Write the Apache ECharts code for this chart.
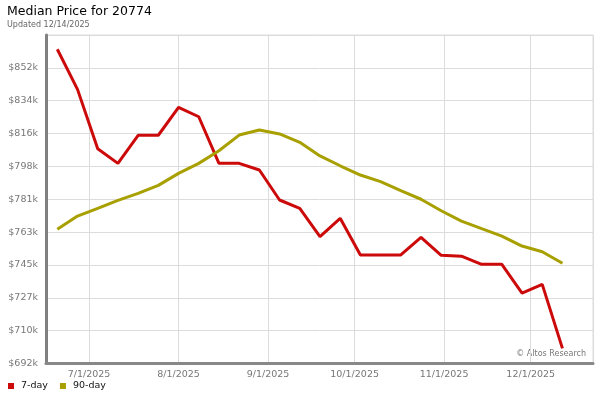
<!DOCTYPE html>
<html>
<head>
<meta charset="utf-8">
<script src="https://cdn.jsdelivr.net/npm/echarts@6/dist/echarts.min.js"></script>
<style>
html,body{margin:0;padding:0;background:#fff;}
#chart{width:600px;height:400px;}
</style>
</head>
<body>
<div id="chart"></div>
<script>
const dates = [
  '2025-06-20','2025-06-27','2025-07-04','2025-07-11','2025-07-18','2025-07-25',
  '2025-08-01','2025-08-08','2025-08-15','2025-08-22','2025-08-29','2025-09-05',
  '2025-09-12','2025-09-19','2025-09-26','2025-10-03','2025-10-10','2025-10-17',
  '2025-10-24','2025-10-31','2025-11-07','2025-11-14','2025-11-21','2025-11-28',
  '2025-12-05','2025-12-12'
];
const sevenDay = [
  862200, 840500, 808400, 800500, 815700, 815700, 830800, 825700, 800500, 800500,
  796900, 780700, 776200, 760900, 770800, 751000, 751000, 751000, 760500, 750800,
  750300, 745900, 745900, 730300, 735100, 700500
];
const ninetyDay = [
  764900, 772000, 776200, 780500, 784300, 788600, 795100, 800500, 807300, 815800,
  818500, 816400, 811900, 804500, 799200, 794200, 790600, 785700, 781100, 774900,
  769300, 765200, 761200, 755800, 752700, 746500
];
const yTickLabels = ['$692k','$710k','$727k','$745k','$763k','$781k','$798k','$816k','$834k','$852k'];
const yMin = 692300, yStep = 17760, yMax = 869900;

function toTs(s){ const p = s.split('-').map(Number); return new Date(p[0], p[1]-1, p[2]).getTime(); }
const xMin = new Date(2025, 5, 16, 2).getTime();
const xMax = new Date(2025, 11, 22, 14).getTime();

const chart = echarts.init(document.getElementById('chart'), null, {renderer:'canvas'});
const FONT = 'DejaVu Sans';
chart.setOption({
  animation: false,
  backgroundColor: '#fff',
  textStyle: {fontFamily: FONT},
  title: {
    text: 'Median Price for 20774',
    subtext: 'Updated 12/14/2025',
    left: 7, top: 5, padding: 0,
    itemGap: 3,
    textStyle: {fontFamily: FONT, fontSize: 12.5, fontWeight: 'normal', color: '#000'},
    subtextStyle: {fontFamily: FONT, fontSize: 8, color: '#666'}
  },
  legend: {
    left: 8, top: 381, padding: 0,
    icon: 'rect', itemWidth: 6, itemHeight: 6, itemGap: 12,
    textStyle: {fontFamily: FONT, fontSize: 9.5, color: '#111', padding: [0,0,0,2]},
    data: ['7-day','90-day']
  },
  grid: {left: 46, right: 7, top: 35, bottom: 36.5, show: true, borderColor: '#dcdcdc', borderWidth: 1},
  xAxis: {
    type: 'time', min: xMin, max: xMax,
    splitNumber: 6,
    minInterval: 28*86400000,
    axisLine: {show: true, lineStyle: {color: '#888', width: 3}},
    axisTick: {show: false},
    splitLine: {show: true, lineStyle: {color: '#dcdcdc', width: 1}},
    axisLabel: {
      fontFamily: FONT, fontSize: 9.5, color: '#777', margin: 6,
      formatter: function(v){ const d = new Date(v); return (d.getMonth()+1)+'/'+d.getDate()+'/'+d.getFullYear(); }
    }
  },
  yAxis: {
    type: 'value', min: yMin, max: yMax, interval: yStep,
    axisLine: {show: true, lineStyle: {color: '#808080', width: 3}},
    axisTick: {show: false},
    splitLine: {show: true, lineStyle: {color: '#dcdcdc', width: 1}},
    axisLabel: {
      fontFamily: FONT, fontSize: 9.5, color: '#777', margin: 8, showMaxLabel: false,
      formatter: function(v){ const i = Math.round((v - yMin)/yStep); return yTickLabels[i] || ''; }
    }
  },
  graphic: [{
    type: 'text', right: 14, top: 350,
    style: {text: '© Altos Research', fontFamily: FONT, fontSize: 8, fill: '#777'}
  }],
  series: [
    {name: '7-day', type: 'line', showSymbol: false, symbol: 'none',
     data: dates.map((d,i)=>[toTs(d), sevenDay[i]]),
     lineStyle: {color: '#cc0a0a', width: 3}, itemStyle: {color: '#cc0a0a'}},
    {name: '90-day', type: 'line', showSymbol: false, symbol: 'none',
     data: dates.map((d,i)=>[toTs(d), ninetyDay[i]]),
     lineStyle: {color: '#a8a000', width: 3}, itemStyle: {color: '#a8a000'}}
  ]
});
</script>
</body>
</html>
